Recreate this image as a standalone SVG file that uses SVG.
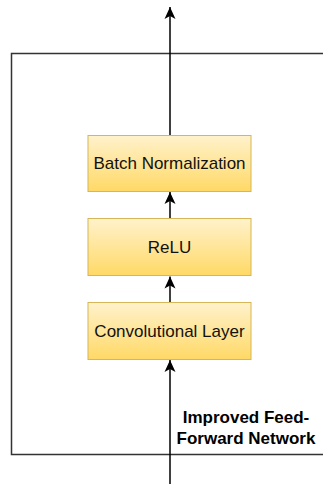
<svg xmlns="http://www.w3.org/2000/svg" width="323" height="484" viewBox="0 0 323 484">
  <style>
    .blk { stroke: #d6b656; stroke-width: 1; fill: url(#yel); }
    .lbl { font-family: "Liberation Sans", Arial, sans-serif; font-size: 17px; fill: #111; text-anchor: middle; dominant-baseline: central; }
    .cap { font-family: "Liberation Sans", Arial, sans-serif; font-size: 17px; font-weight: bold; fill: #000; text-anchor: middle; }
    .wire { stroke: #000; stroke-width: 1.5; fill: none; }
  </style>
  <defs>
    <linearGradient id="yel" x1="0" y1="0" x2="0" y2="1">
      <stop offset="0" stop-color="#fff2cc"/>
      <stop offset="1" stop-color="#ffd966"/>
    </linearGradient>
    <marker id="tip" viewBox="0 0 12 12" refX="12" refY="6" markerWidth="12" markerHeight="12" markerUnits="userSpaceOnUse" orient="auto">
      <path d="M0,0.5 L12,6 L0,11.5 L3,6 Z" fill="#000"/>
    </marker>
  </defs>

  <!-- enclosing module frame -->
  <g id="frame">
    <path d="M323,53.5 H11.5 V454.5 H323" fill="none" stroke="#333" stroke-width="1.5"/>
    <text class="cap" x="246" y="422.5">Improved Feed-</text>
    <text class="cap" x="246" y="444">Forward Network</text>
  </g>

  <g id="connectors">
    <line class="wire" x1="170" y1="484" x2="170" y2="360" marker-end="url(#tip)"/>
    <line class="wire" x1="170" y1="302" x2="170" y2="276.5" marker-end="url(#tip)"/>
    <line class="wire" x1="170" y1="218" x2="170" y2="192" marker-end="url(#tip)"/>
    <line class="wire" x1="170" y1="135" x2="170" y2="7" marker-end="url(#tip)"/>
  </g>

  <g id="conv">
    <rect class="blk" x="88" y="302.5" width="163" height="57"/>
    <text class="lbl" x="169.5" y="331">Convolutional Layer</text>
  </g>
  <g id="relu">
    <rect class="blk" x="88" y="218.5" width="163" height="57"/>
    <text class="lbl" x="169.5" y="247">ReLU</text>
  </g>
  <g id="bn">
    <rect class="blk" x="88" y="135.5" width="163" height="56"/>
    <text class="lbl" x="169.5" y="163.5">Batch Normalization</text>
  </g>
</svg>
